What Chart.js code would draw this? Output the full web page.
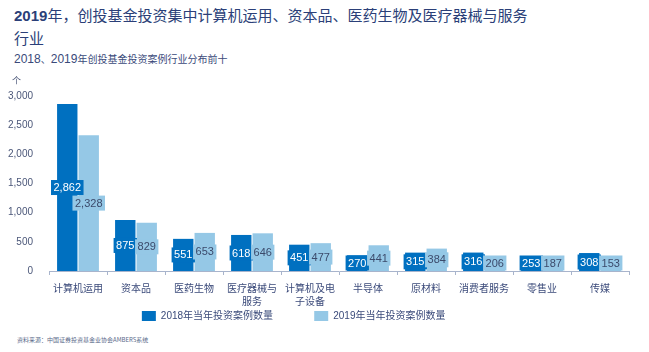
<!DOCTYPE html>
<html lang="zh">
<head>
<meta charset="UTF-8">
<title>创投基金投资案例行业分布</title>
<script src="https://cdn.jsdelivr.net/npm/chart.js@4/dist/chart.umd.min.js"></script>
<style>
    body {
        margin: 0;
        width: 649px;
        height: 352px;
        background: #fff;
        position: relative;
        overflow: hidden;
        font-family: "Noto Sans CJK SC", "Liberation Sans", sans-serif;
    }
    .title {
        position: absolute;
        left: 14px;
        top: 4px;
        width: 525px;
        font-size: 15px;
        line-height: 22px;
        color: #2b3f78;
    }
    .title b {
        font-family: "Liberation Sans", Arial, sans-serif;
        font-size: 15px;
    }
    .subtitle {
        position: absolute;
        left: 14px;
        top: 51px;
        font-size: 10px;
        color: #3a4a7a;
    }
    .subtitle span {
        font-family: "Liberation Sans", Arial, sans-serif;
        font-size: 12px;
    }
    .unit {
        position: absolute;
        left: 12px;
        top: 75px;
        font-size: 9px;
        line-height: 12px;
        color: #4a5678;
        z-index: 2;
    }
    .source {
        position: absolute;
        left: 17px;
        top: 335px;
        font-size: 6px;
        color: #5a6a8a;
    }
    #chartBox {
        position: absolute;
        left: 0;
        top: 82px;
        width: 649px;
        height: 249px;
    }
</style>
</head>
<body>
<div class="title"><b>2019</b>年，创投基金投资集中计算机运用、资本品、医药生物及医疗器械与服务行业</div>
<div class="subtitle"><span>2018</span>、<span>2019</span>年创投基金投资案例行业分布前十</div>
<div id="chartBox"><canvas id="chart"></canvas></div>
<div class="unit">个</div>
<div class="source">资料来源：中国证券投资基金业协会AMBERS系统</div>

<script>
    // Data
    const categories = [
        '计算机运用', '资本品', '医药生物', ['医疗器械与', '服务'], ['计算机及电', '子设备'],
        '半导体', '原材料', '消费者服务', '零售业', '传媒'
    ];
    const cases2018 = [2862, 875, 551, 618, 451, 270, 315, 316, 253, 308];
    const cases2019 = [2328, 829, 653, 646, 477, 441, 384, 206, 187, 153];
    const seriesNames = ['2018年当年投资案例数量', '2019年当年投资案例数量'];
    const yTicks = [0, 500, 1000, 1500, 2000, 2500, 3000];

    const darkBlue = '#0070c0';
    const lightBlue = '#95c8e6';

    // value labels sit in the middle of each bar, on a box of the bar colour
    // (kept above the axis line for the short bars)
    const barLabels = {
        id: 'barLabels',
        afterDatasetsDraw(chart) {
            const ctx = chart.ctx;
            ctx.save();
            ctx.font = '11px "Liberation Sans", Arial, sans-serif';
            ctx.textAlign = 'center';
            ctx.textBaseline = 'middle';
            chart.data.datasets.forEach((ds, i) => {
                const meta = chart.getDatasetMeta(i);
                meta.data.forEach((bar, j) => {
                    const text = ds.data[j].toLocaleString('en-US');
                    const w = ctx.measureText(text).width + 5;
                    const h = 15;
                    const y = Math.min((bar.y + bar.base) / 2, bar.base - h / 2 - 0.5);
                    ctx.fillStyle = ds.backgroundColor;
                    ctx.fillRect(bar.x - w / 2, y - h / 2, w, h);
                    ctx.fillStyle = i === 0 ? '#ffffff' : '#3b4a6b';
                    ctx.fillText(text, bar.x, y + 0.5);
                });
            });
            ctx.restore();
        }
    };

    const ctx = document.getElementById('chart').getContext('2d');
    new Chart(ctx, {
        type: 'bar',
        data: {
            labels: categories,
            datasets: [{
                label: seriesNames[0],
                data: cases2018,
                backgroundColor: darkBlue,
                barPercentage: 0.95,
                categoryPercentage: 0.74
            }, {
                label: seriesNames[1],
                data: cases2019,
                backgroundColor: lightBlue,
                barPercentage: 0.95,
                categoryPercentage: 0.74
            }]
        },
        options: {
            responsive: true,
            maintainAspectRatio: false,
            animation: false,
            layout: {
                padding: { top: 1, right: 20, left: 0, bottom: 0 }
            },
            plugins: {
                legend: {
                    display: true,
                    position: 'bottom',
                    labels: {
                        boxWidth: 14,
                        boxHeight: 10,
                        padding: 5,
                        color: '#3a4a7a',
                        font: { size: 10, family: '"Liberation Sans", "Noto Sans CJK SC", sans-serif' },
                        generateLabels(chart) {
                            const items = Chart.defaults.plugins.legend.labels.generateLabels(chart);
                            items[0].text = items[0].text + '             ';
                            items[1].text = items[1].text + '               ';
                            return items;
                        }
                    }
                },
                tooltip: { enabled: false }
            },
            scales: {
                x: {
                    afterFit(scale) { scale.height = 35; },
                    grid: {
                        display: true,
                        drawOnChartArea: false,
                        tickLength: 4,
                        color: '#a8b4cc'
                    },
                    border: { color: '#a8b4cc' },
                    ticks: {
                        color: '#3b4a7a',
                        maxRotation: 0,
                        autoSkip: false,
                        padding: 7,
                        font: { size: 10, family: '"Noto Sans CJK SC", sans-serif', lineHeight: 1.25 }
                    }
                },
                y: {
                    min: 0,
                    max: 3000,
                    afterFit(scale) { scale.width = 49; },
                    afterBuildTicks(scale) {
                        scale.ticks = yTicks.map(v => ({ value: v }));
                    },
                    grid: { display: false },
                    border: { display: false },
                    ticks: {
                        color: '#4a5678',
                        padding: 8,
                        font: { size: 10, family: '"Liberation Sans", Arial, sans-serif' },
                        callback: v => v.toLocaleString('en-US')
                    }
                }
            }
        },
        plugins: [barLabels]
    });
</script>
</body>
</html>
